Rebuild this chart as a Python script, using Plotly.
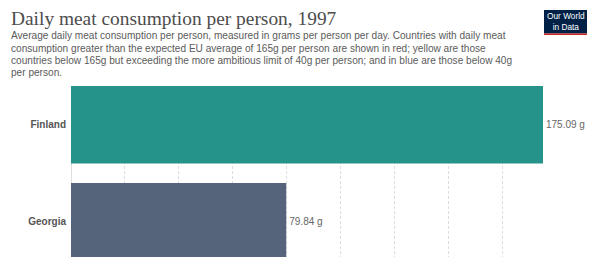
import plotly.graph_objects as go

countries = ["Finland", "Georgia"]
values = [175.09, 79.84]
bar_colors = ["#25938a", "#55647a"]
value_labels = [f"{v:.2f} g" for v in values]

title = "Daily meat consumption per person, 1997"
subtitle_lines = [
    "Average daily meat consumption per person, measured in grams per person per day. Countries with daily meat",
    "consumption greater than the expected EU average of 165g per person are shown in red; yellow are those",
    "countries below 165g but exceeding the more ambitious limit of 40g per person; and in blue are those below 40g",
    "per person.",
]

W, H = 598, 257
L, R, T, B = 71, 55, 86, 0
pw, ph = W - L - R, H - T - B


def px(x):
    return (x - L) / pw


def py(y):
    return (H - B - y) / ph


fig = go.Figure()
fig.add_trace(go.Bar(
    x=values, y=countries, orientation="h",
    marker=dict(color=bar_colors, line=dict(width=0)),
    width=0.8,
    text=value_labels, textposition="outside", cliponaxis=False,
    textfont=dict(family="Liberation Sans, Arial", size=10, color="#666666"),
    hoverinfo="skip",
))

annotations = [
    dict(text=title, x=px(9), y=py(18), xref="paper", yref="paper",
         xanchor="left", yanchor="middle", showarrow=False,
         font=dict(family="Liberation Serif, Georgia, serif", size=19.4, color="#4d4d4d")),
]
for i, line in enumerate(subtitle_lines):
    annotations.append(dict(text=line, x=px(9), y=py(36 + i * 12.3), xref="paper", yref="paper",
                            xanchor="left", yanchor="middle", showarrow=False,
                            font=dict(family="Liberation Sans, Arial", size=10.1, color="#5b5b5b")))
annotations.append(dict(text="Our World<br>in Data", x=px(565.5), y=py(21.5), xref="paper", yref="paper",
                        xanchor="center", yanchor="middle", showarrow=False,
                        font=dict(family="Liberation Sans, Arial", size=8.3, color="#ffffff")))

shapes = [
    dict(type="rect", xref="paper", yref="paper", x0=px(544), x1=px(587), y0=py(10), y1=py(33.5),
         fillcolor="#002147", line=dict(width=0), layer="above"),
    dict(type="rect", xref="paper", yref="paper", x0=px(544), x1=px(587), y0=py(33.5), y1=py(35),
         fillcolor="#ce261e", line=dict(width=0), layer="above"),
]

fig.update_layout(
    width=W, height=H,
    margin=dict(l=L, r=R, t=T, b=B, pad=0),
    paper_bgcolor="white", plot_bgcolor="white",
    showlegend=False,
    annotations=annotations,
    shapes=shapes,
    xaxis=dict(range=[0, values[0]], dtick=20, showgrid=True, gridcolor="#dddddd",
               griddash="3px,2px", gridwidth=1, zeroline=True, zerolinecolor="#dddddd",
               zerolinewidth=1, showticklabels=False, fixedrange=True),
    yaxis=dict(range=[1.363, -0.4], showgrid=False, zeroline=False, ticks="",
               tickfont=dict(family="Liberation Sans, Arial", size=10, color="#555555"),
               ticklabelstandoff=4, fixedrange=True),
)
fig.update_yaxes(ticktext=[f"<b>{c}</b>" for c in countries], tickvals=countries)

fig.write_html("out.html", config={"displayModeBar": False},
               post_script="document.body.style.margin='0';document.body.style.overflow='hidden';")
